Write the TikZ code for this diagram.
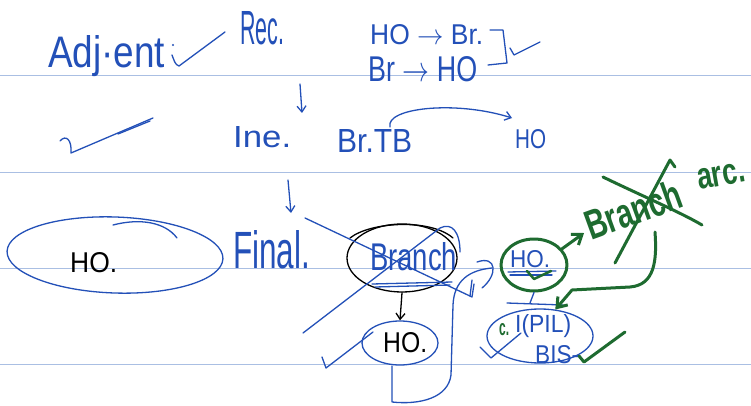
\documentclass[tikz,border=0pt]{standalone}
\usepackage{fontspec}
\usepackage{graphicx}
\setmainfont{Liberation Sans}
\usetikzlibrary{shapes.geometric,arrows.meta}
\definecolor{ink}{HTML}{2350B8}
\definecolor{pen}{HTML}{1E6B30}
\definecolor{ruling}{HTML}{AABFE3}
% handwritten word boxed to a given width and height (pt)
\newcommand{\hw}[3]{\resizebox{#1pt}{#2pt}{#3}}

\begin{document}
\begin{tikzpicture}[x=1pt,y=-1pt,line cap=round,line join=round,
  txt/.style={inner sep=0pt,anchor=base west,text=ink},
  blk/.style={inner sep=0pt,anchor=base west,text=black},
  grn/.style={inner sep=0pt,anchor=base west,text=pen,font=\bfseries},
  bl/.style={draw=ink,line width=1.3pt},
  bk/.style={draw=black,line width=1.3pt},
  gr/.style={draw=pen,line width=3pt},
  oval/.style={ellipse,inner sep=0pt},
  tip/.style={-{Straight Barb[length=6pt,width=9pt]}},
  gtip/.style={-{Straight Barb[length=9pt,width=13pt]}}]

\useasboundingbox (0,0) rectangle (751,406);
\fill[white] (0,0) rectangle (751,406);

% ruled lines of the page
\foreach \yy in {76,172,268,364}
  \draw[ruling,line width=1pt] (0,\yy) -- (751,\yy);

% ---- first row
\node[txt] (adj) at (48,68) {\hw{117}{32}{Adj·ent}};
\fill[ink] (173,45) circle (1.2pt);
\draw[bl] (172,55) .. controls (174,60) and (175,65) .. (179,66) -- (225,32);
\node[txt] (rec) at (240,45) {\hw{44}{33}{Rec.}};
\node[txt] (hob) at (370,45) {\hw{113}{20}{HO $\rightarrow$ Br.}};
\node[txt] (brh) at (368,82) {\hw{109}{25}{Br $\rightarrow$ HO}};
\draw[bl] (490,30) -- (503,30) -- (507,63) -- (488,65);
\draw[bl] (510,48) -- (514,55) -- (540,42);

% ---- second row
\coordinate (r1) at (300,84);
\coordinate (r2) at (302,113);
\draw[bl,tip] (r1) -- (r2);
\draw[bl] (60,141) .. controls (66,134) and (72,140) .. (71,153) -- (153,118);
\draw[bl] (118,134) -- (150,121);
\node[txt] (ine) at (233,148) {\hw{58}{21}{Ine.}};
\node[txt] (brtb) at (337,153) {\hw{75}{23}{Br.TB}};
\node[txt] (ho2) at (515,148) {\hw{31}{19}{HO}};
\coordinate (c1) at (390,127);
\coordinate (c2) at (512,118);
\draw[bl,tip] (c1) .. controls (385,108) and (455,100) .. (c2);

% ---- third row
\coordinate (i1) at (288,180);
\coordinate (i2) at (291,213);
\draw[bl,tip] (i1) -- (i2);

\node[oval,draw=ink,line width=1.3pt,minimum width=216pt,minimum height=76pt,rotate=-2] (elL) at (115,255) {};
\draw[bl] (113,225) .. controls (140,218) and (165,222) .. (177,238);
\node[blk] (hoL) at (70,272) {\hw{47}{20}{HO.}};
\node[txt] (final) at (233,268) {\hw{77}{38}{Final.}};

% crossed-out Branch
\node[oval,draw=black,line width=1.3pt,minimum width=110pt,minimum height=68pt] (brE) at (402,258) {};
\draw[bk] (350,238) .. controls (370,222) and (430,218) .. (453,238);
\node[txt] (branch) at (370,270) {\hw{87}{28}{Branch}};
\draw[bl] (372,284) -- (452,282);
\draw[bl] (375,287) -- (450,285);
\draw[bl] (305,218) -- (472,297) -- (474,284);
\draw[bl] (303,333) -- (440,228) .. controls (452,222) and (460,232) .. (460,252);

% HO below Branch
\node[oval,draw=ink,line width=1.3pt,minimum width=76pt,minimum height=44pt] (hoE) at (400,343) {};
\node[blk] (hoB) at (383,352) {\hw{44}{20}{HO.}};
\draw[bk,tip] (brE.south) -- (hoE.north);
\draw[bl] (322,357) -- (326,368) -- (373,332);
\draw[bl] (392,366) -- (392,402) .. controls (420,405) and (448,398) .. (451,375)
  -- (453,305) .. controls (454,280) and (470,270) .. (492,268);
\draw[bl] (477,262) .. controls (497,255) and (498,275) .. (482,288);
\draw[bl] (472,280) -- (470,296);

% HO in the green circle
\node[oval,draw=pen,line width=3pt,minimum width=66pt,minimum height=52pt] (gC) at (534,265) {};
\node[txt] (hoG) at (510,267) {\hw{40}{17}{HO.}};
\draw[bl] (508,272) -- (556,271);
\draw[bl] (510,275) -- (552,275);
\draw[gr,line width=2.5pt] (527,271) -- (534,279) -- (551,271);

% green Branch arc., crossed out
\coordinate (g1) at (584,233);
\draw[gr,gtip] (gC.30) -- (g1);
\node[grn,rotate=20] (brG) at (591,241) {\hw{100}{30}{Branch}};
\node[grn,rotate=10] (arcG) at (699,190) {\hw{48}{20}{arc.}};
\draw[gr] (603,177) .. controls (640,195) and (680,212) .. (702,225);
\draw[gr] (615,263) -- (670,160) -- (675,167);

% lower note: c.I(PIL) / BIS-
\draw[bl] (gC.south) -- (530,303);
\draw[bl] (507,303) -- (563,305);
\node[oval,draw=ink,line width=1.3pt,minimum width=106pt,minimum height=54pt] (pilE) at (540,336) {};
\coordinate (g2) at (655,232);
\draw[gr,gtip] (g2) .. controls (657,260) and (655,285) .. (630,287) -- (572,290) -- (pilE.60);
\node[grn] (cg) at (499,335) {\hw{10}{12}{c.}};
\node[txt] (pil) at (515,332) {\hw{56}{18}{I(PIL)}};
\node[txt] (bis) at (535,363) {\hw{44}{18}{BIS-}};
\draw[gr] (579,356) -- (584,362) -- (625,332);
\draw[bl] (480,347) -- (491,358) -- (521,333);
\end{tikzpicture}
\end{document}
